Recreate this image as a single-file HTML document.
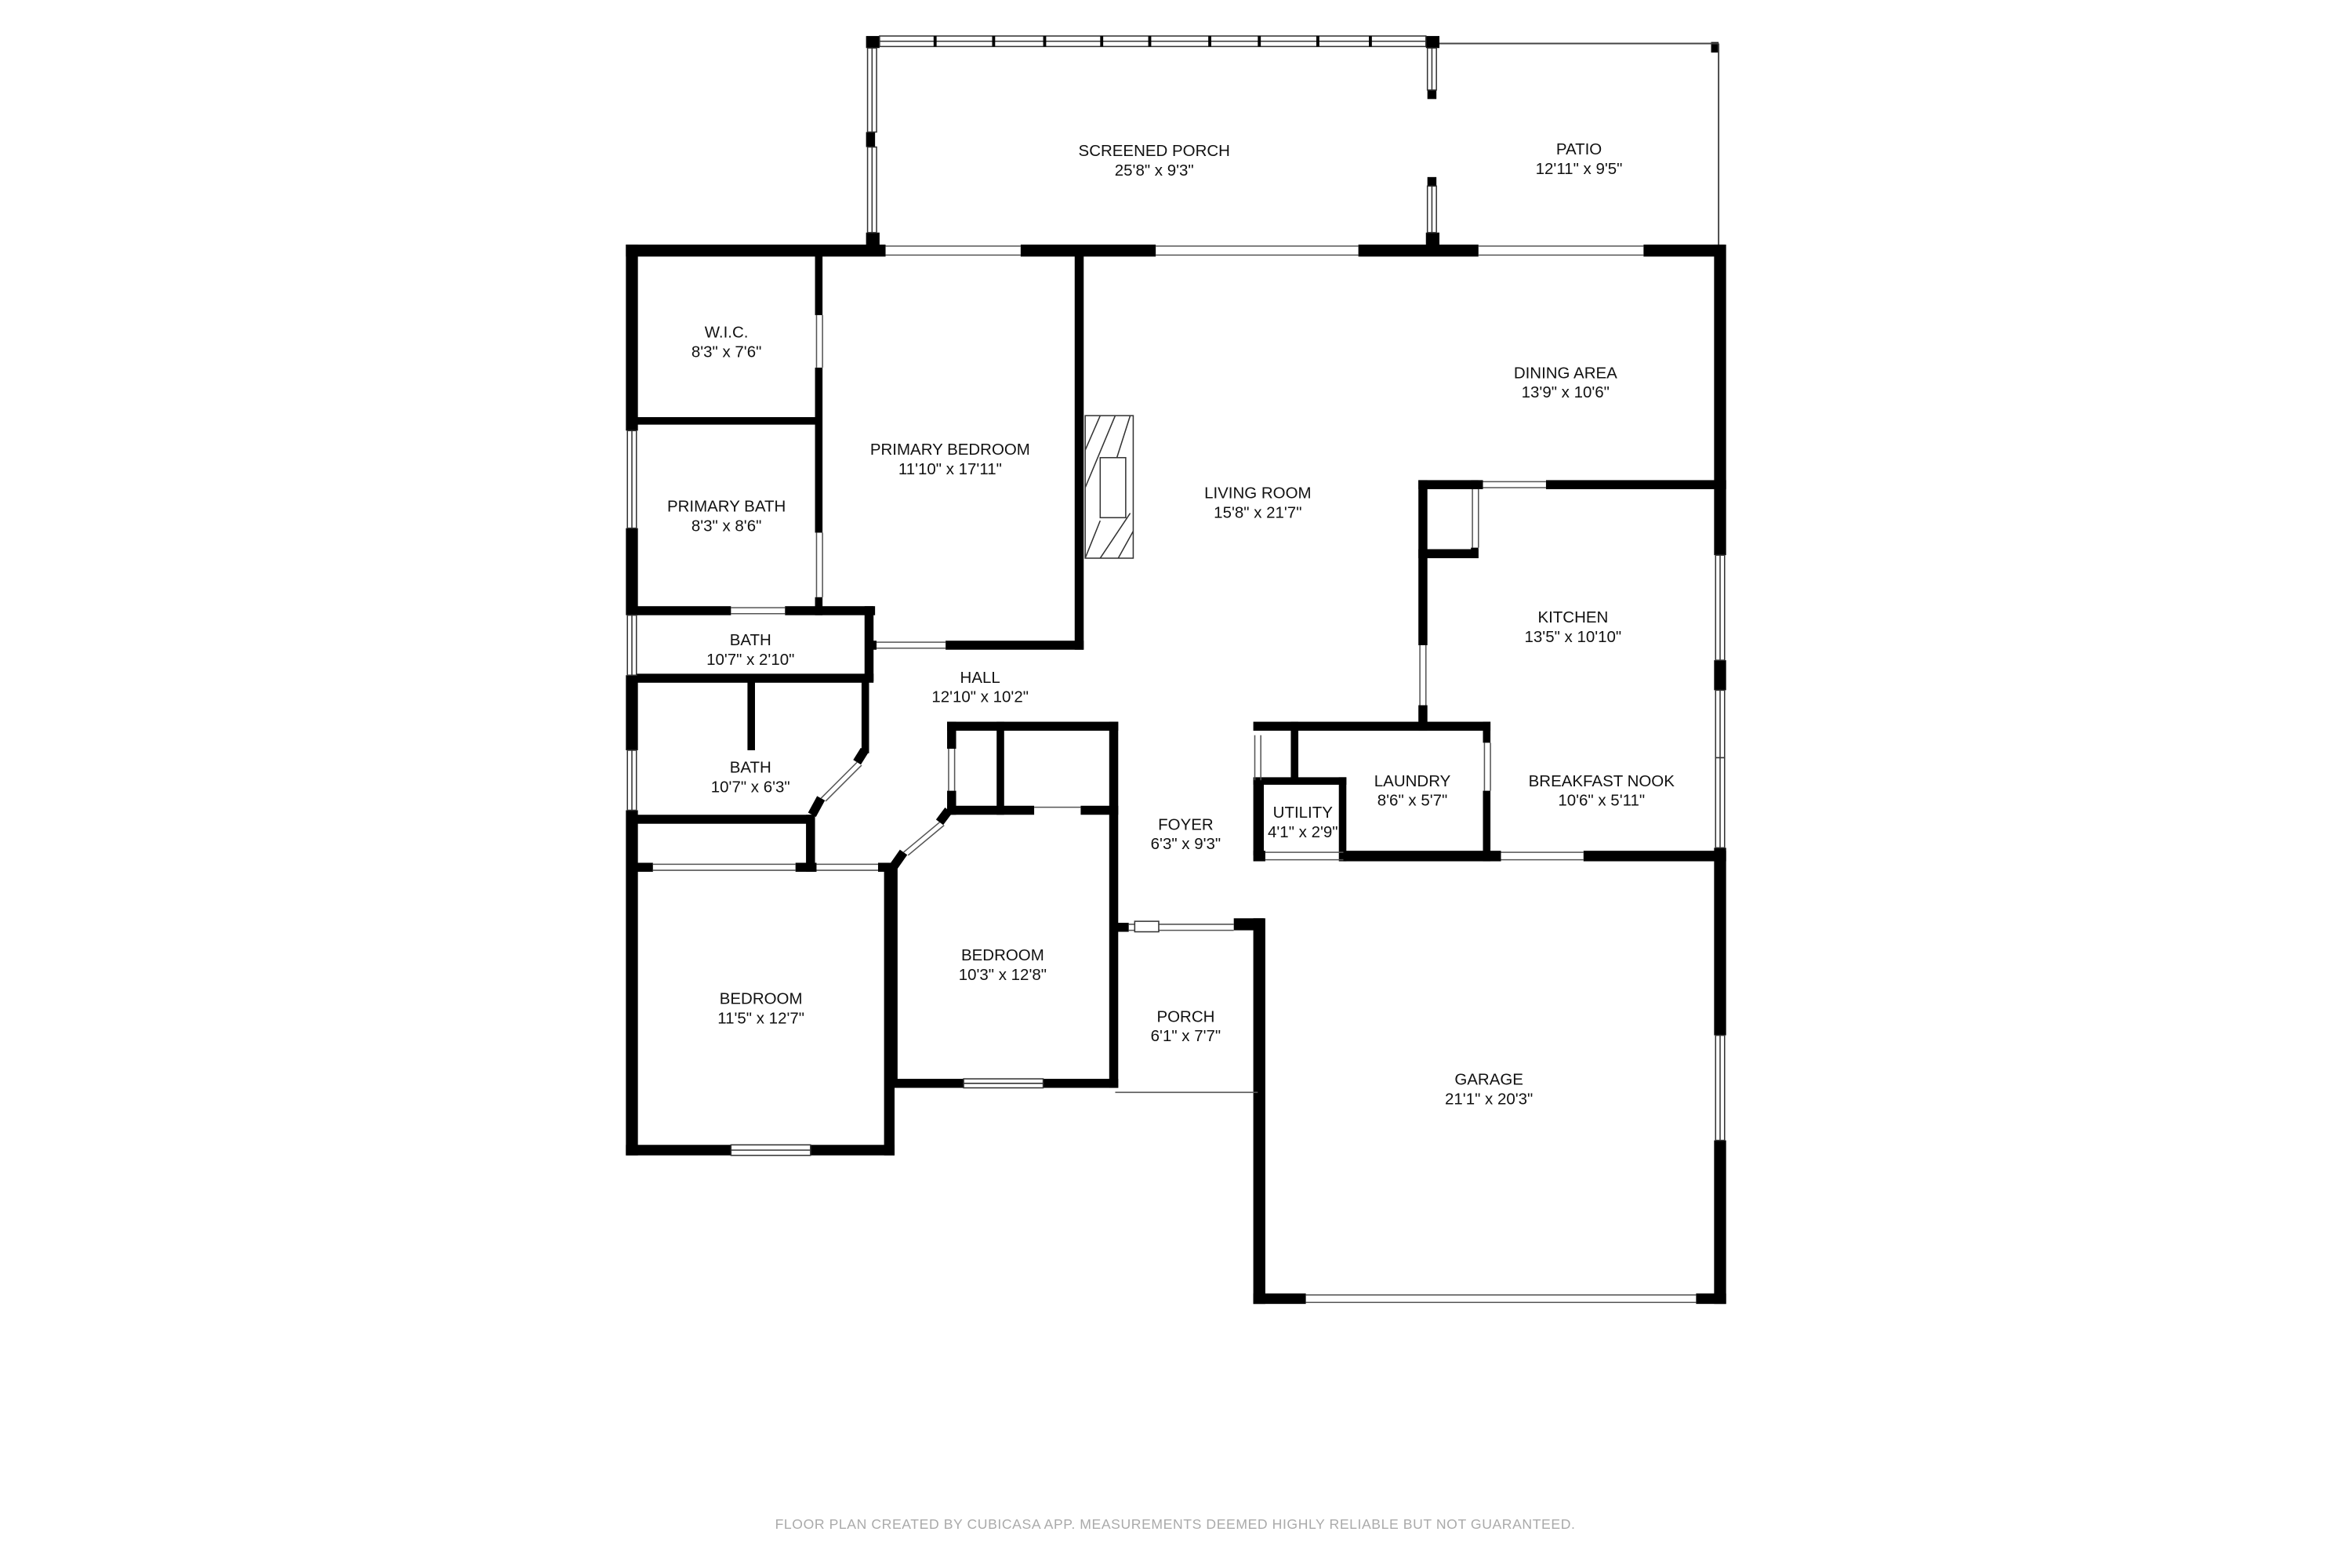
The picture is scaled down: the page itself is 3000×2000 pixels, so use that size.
<!DOCTYPE html>
<html><head><meta charset="utf-8"><style>
html,body{margin:0;padding:0;background:#fff;}
svg{display:block}
text{font-family:"Liberation Sans",sans-serif;font-size:10.7px;text-anchor:middle;fill:#111}
</style></head><body>
<svg width="3000" height="2000" viewBox="0 0 1567 1045" preserveAspectRatio="none" xmlns="http://www.w3.org/2000/svg">
<rect width="1567" height="1045" fill="#fff"/>
<g fill="#000">
<rect x="417" y="163" width="173" height="8"/>
<rect x="680" y="163" width="90" height="8"/>
<rect x="905" y="163" width="80" height="8"/>
<rect x="1095" y="163" width="54" height="8"/>
<rect x="417" y="163" width="8" height="124"/>
<rect x="417" y="352" width="8" height="58"/>
<rect x="417" y="450" width="8" height="50"/>
<rect x="417" y="540" width="8" height="230"/>
<rect x="1142" y="163" width="8" height="207"/>
<rect x="1142" y="440" width="8" height="20"/>
<rect x="1142" y="565" width="8" height="125"/>
<rect x="1142" y="760" width="8" height="109"/>
<rect x="417" y="763" width="70" height="7"/>
<rect x="540" y="763" width="56" height="7"/>
<rect x="589" y="578" width="7" height="192"/>
<rect x="592" y="578" width="6" height="145"/>
<rect x="592" y="719" width="50" height="6"/>
<rect x="695" y="719" width="50" height="6"/>
<rect x="739" y="481" width="6" height="244"/>
<rect x="835" y="612" width="8" height="257"/>
<rect x="835" y="862" width="35" height="7"/>
<rect x="1130" y="862" width="20" height="7"/>
<rect x="895" y="567" width="105" height="7"/>
<rect x="1055" y="567" width="95" height="7"/>
<rect x="835" y="520" width="7" height="50"/>
<rect x="543" y="168" width="5" height="42"/>
<rect x="543" y="245" width="5" height="110"/>
<rect x="543" y="398" width="5" height="12"/>
<rect x="716" y="168" width="6" height="265"/>
<rect x="630" y="427" width="92" height="6"/>
<rect x="578" y="427" width="6" height="6"/>
<rect x="421" y="278" width="125" height="5"/>
<rect x="421" y="404" width="66" height="6"/>
<rect x="523" y="404" width="60" height="6"/>
<rect x="576" y="404" width="6" height="50"/>
<rect x="421" y="449" width="161" height="6"/>
<rect x="498" y="452" width="5" height="48"/>
<rect x="574" y="452" width="5" height="50"/>
<rect x="421" y="543" width="120" height="6"/>
<rect x="537" y="543" width="6" height="38"/>
<rect x="421" y="575" width="14" height="6"/>
<rect x="530" y="575" width="14" height="6"/>
<rect x="585" y="575" width="10" height="6"/>
<rect x="631" y="481" width="114" height="6"/>
<rect x="631" y="481" width="6" height="18"/>
<rect x="631" y="527" width="6" height="16"/>
<rect x="664" y="481" width="5" height="62"/>
<rect x="631" y="537" width="58" height="6"/>
<rect x="720" y="537" width="25" height="6"/>
<rect x="742" y="615" width="10" height="6"/>
<rect x="822" y="612" width="20" height="8"/>
<rect x="945" y="320" width="6" height="110"/>
<rect x="945" y="470" width="6" height="17"/>
<rect x="945" y="320" width="43" height="6"/>
<rect x="1030" y="320" width="120" height="6"/>
<rect x="945" y="366" width="40" height="6"/>
<rect x="980" y="320" width="5" height="6"/>
<rect x="980" y="365" width="5" height="7"/>
<rect x="835" y="481" width="158" height="6"/>
<rect x="860" y="481" width="5" height="40"/>
<rect x="988" y="481" width="5" height="14"/>
<rect x="988" y="527" width="5" height="47"/>
<rect x="835" y="518" width="62" height="5"/>
<rect x="892" y="518" width="5" height="56"/>
<rect x="835" y="567" width="8" height="7"/>
<rect x="577" y="24" width="9" height="8"/>
<rect x="950" y="24" width="9" height="8"/>
<rect x="577" y="155" width="9" height="10"/>
<rect x="950" y="155" width="9" height="10"/>
<rect x="577" y="88" width="6" height="10"/>
<rect x="951" y="60" width="6" height="6"/>
<rect x="951" y="118" width="6" height="6"/>
<rect x="1140" y="28" width="5" height="7"/>
</g>
<g stroke="#000" stroke-width="6">
<line x1="576" y1="500" x2="571" y2="508"/>
<line x1="547" y1="532" x2="541" y2="543"/>
<line x1="632" y1="540" x2="626" y2="548"/>
<line x1="602" y1="568" x2="595" y2="578"/>
</g>
<g stroke="#555" stroke-width="0.8" fill="none">
<line x1="571" y1="508" x2="547" y2="532"/>
<line x1="574" y1="510" x2="550" y2="534"/>
<line x1="626" y1="548" x2="602" y2="568"/>
<line x1="629" y1="550" x2="605" y2="570"/>
<path d="M590 164h90M590 170h90M770 164h135M770 170h135M985 164h110M985 170h110"/>
<path d="M870 863h260M870 868h260M1000 568h55M1000 573h55M843 568h52M843 573h52"/>
<path d="M435 576h95M435 580h95M544 576h41M544 580h41"/>
<path d="M584 428h46M584 432h46M487 405h36M487 409h36"/>
<path d="M689 538h31M752 616h70M752 620h70"/>
<path d="M743 728h95"/>
<path d="M988 321h42M988 325h42M981 326v39M985 326v39"/>
<path d="M946 430v40M950 430v40M632 499v28M636 499v28M989 495v32M993 495v32"/>
<path d="M544 210v35M548 210v35M544 355v43M548 355v43"/>
<path d="M836 490v30M840 490v30"/>
<path d="M959 29h186M1145 29v134" stroke="#444" stroke-width="1"/>
</g>
<g fill="#fff" stroke="#333" stroke-width="0.8">
<rect x="418" y="287" width="6" height="65"/><line x1="421" y1="287" x2="421" y2="352"/>
<rect x="418" y="410" width="6" height="40"/><line x1="421" y1="410" x2="421" y2="450"/>
<rect x="418" y="500" width="6" height="40"/><line x1="421" y1="500" x2="421" y2="540"/>
<rect x="1143" y="370" width="6" height="70"/><line x1="1146" y1="370" x2="1146" y2="440"/>
<rect x="1143" y="460" width="6" height="45"/><line x1="1146" y1="460" x2="1146" y2="505"/>
<rect x="1143" y="505" width="6" height="60"/><line x1="1146" y1="505" x2="1146" y2="565"/>
<rect x="1143" y="690" width="6" height="70"/><line x1="1146" y1="690" x2="1146" y2="760"/>
<rect x="487" y="763" width="53" height="7"/><line x1="487" y1="766.5" x2="540" y2="766.5"/>
<rect x="642" y="719" width="53" height="6"/><line x1="642" y1="722" x2="695" y2="722"/>
<rect x="756" y="614" width="16" height="7"/>
<rect x="586" y="24" width="364" height="7"/>
<line x1="586" y1="27.5" x2="950" y2="27.5"/>
<rect x="578" y="32" width="6" height="56"/><line x1="581" y1="32" x2="581" y2="88"/>
<rect x="578" y="98" width="6" height="57"/><line x1="581" y1="98" x2="581" y2="155"/>
<rect x="951" y="32" width="6" height="28"/><line x1="954" y1="32" x2="954" y2="60"/>
<rect x="951" y="124" width="6" height="31"/><line x1="954" y1="124" x2="954" y2="155"/>
</g>
<g fill="#000">
<rect x="622" y="24" width="2" height="7"/><rect x="661" y="24" width="2" height="7"/><rect x="695" y="24" width="2" height="7"/><rect x="733" y="24" width="2" height="7"/><rect x="765" y="24" width="2" height="7"/><rect x="805" y="24" width="2" height="7"/><rect x="838" y="24" width="2" height="7"/><rect x="877" y="24" width="2" height="7"/><rect x="912" y="24" width="2" height="7"/>
</g>
<g stroke="#333" stroke-width="0.8" fill="#fff">
<rect x="723" y="277" width="32" height="95"/>
<path d="M723 300l10-23M723 325l20-48M733 340l20-63M723 372l10-25M733 372l20-30M745 372l10-18" fill="none"/>
<rect x="733" y="305" width="17" height="40"/>
</g>
<text x="769" y="104">SCREENED PORCH</text><text x="769" y="117">25'8" x 9'3"</text>
<text x="1052" y="103">PATIO</text><text x="1052" y="116">12'11" x 9'5"</text>
<text x="484" y="225">W.I.C.</text><text x="484" y="238">8'3" x 7'6"</text>
<text x="1043" y="252">DINING AREA</text><text x="1043" y="265">13'9" x 10'6"</text>
<text x="633" y="303">PRIMARY BEDROOM</text><text x="633" y="316">11'10" x 17'11"</text>
<text x="838" y="332">LIVING ROOM</text><text x="838" y="345">15'8" x 21'7"</text>
<text x="484" y="341">PRIMARY BATH</text><text x="484" y="354">8'3" x 8'6"</text>
<text x="1048" y="415">KITCHEN</text><text x="1048" y="428">13'5" x 10'10"</text>
<text x="500" y="430">BATH</text><text x="500" y="443">10'7" x 2'10"</text>
<text x="653" y="455">HALL</text><text x="653" y="468">12'10" x 10'2"</text>
<text x="500" y="515">BATH</text><text x="500" y="528">10'7" x 6'3"</text>
<text x="941" y="524">LAUNDRY</text><text x="941" y="537">8'6" x 5'7"</text>
<text x="1067" y="524">BREAKFAST NOOK</text><text x="1067" y="537">10'6" x 5'11"</text>
<text x="868" y="545">UTILITY</text><text x="868" y="558">4'1" x 2'9"</text>
<text x="790" y="553">FOYER</text><text x="790" y="566">6'3" x 9'3"</text>
<text x="668" y="640">BEDROOM</text><text x="668" y="653">10'3" x 12'8"</text>
<text x="507" y="669">BEDROOM</text><text x="507" y="682">11'5" x 12'7"</text>
<text x="790" y="681">PORCH</text><text x="790" y="694">6'1" x 7'7"</text>
<text x="992" y="723">GARAGE</text><text x="992" y="736">21'1" x 20'3"</text>
<text x="783" y="1019" style="font-size:9.2px;fill:#aaa;letter-spacing:0.3px">FLOOR PLAN CREATED BY CUBICASA APP. MEASUREMENTS DEEMED HIGHLY RELIABLE BUT NOT GUARANTEED.</text>
</svg>
</body></html>
